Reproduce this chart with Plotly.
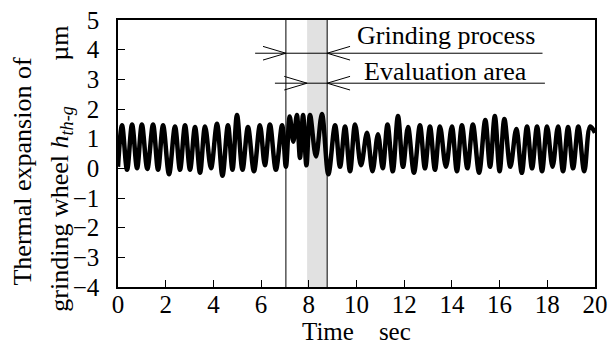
import plotly.graph_objects as go

# ---- data ----
peak_time = [0.17, 0.59, 1.00, 1.47, 1.89, 2.39, 2.81, 3.23, 3.65, 4.15, 4.61, 4.99,
             5.45, 5.95, 6.37, 6.88, 7.20, 7.50, 7.76, 8.05, 8.55, 9.10, 9.52, 9.94,
             10.44, 10.90, 11.30, 11.74, 12.16, 12.66, 13.08, 13.50, 14.00, 14.42,
             14.88, 15.40, 15.80, 16.20, 16.70, 17.15, 17.57, 17.99, 18.45, 18.87,
             19.30, 19.80]
peak_value = [1.45, 1.48, 1.48, 1.48, 1.45, 1.41, 1.45, 1.39, 1.41, 1.50, 1.45, 1.80,
              1.39, 1.45, 1.48, 1.45, 1.75, 1.80, 1.80, 1.80, 1.83, 1.45, 1.41, 1.48,
              1.20, 1.15, 1.48, 1.76, 1.39, 1.45, 1.41, 1.41, 1.41, 1.45,
              1.48, 1.63, 1.76, 1.66, 1.33, 1.41, 1.41, 1.41, 1.41, 1.39,
              1.41, 1.41]
trough_time = [0.00, 0.38, 0.80, 1.23, 1.68, 2.14, 2.60, 3.02, 3.44, 3.90, 4.38, 4.80,
               5.22, 5.70, 6.16, 6.62, 7.04, 7.35, 7.63, 7.90, 8.30, 8.82, 9.31, 9.73,
               10.19, 10.67, 11.10, 11.52, 11.95, 12.41, 12.87, 13.29, 13.75, 14.21,
               14.65, 15.14, 15.60, 16.00, 16.45, 16.93, 17.36, 17.78, 18.22, 18.66,
               19.08, 19.55, 20.00]
trough_value = [0.05, -0.05, 0.00, -0.02, -0.05, -0.20, -0.05, -0.05, -0.15, 0.00, -0.25, -0.05,
                -0.05, -0.10, 0.10, -0.05, 0.05, 0.90, 0.35, 0.10, 0.40, -0.20, 0.05, -0.10,
                0.10, -0.10, 0.00, -0.10, 0.05, -0.15, 0.00, -0.05, 0.05, -0.10,
                0.00, -0.15, 0.05, -0.10, 0.05, -0.15, 0.00, -0.10, 0.05, -0.10,
                0.00, -0.10, 1.20]

x_ticks = [0, 2, 4, 6, 8, 10, 12, 14, 16, 18, 20]
y_ticks = [-4, -3, -2, -1, 0, 1, 2, 3, 4, 5]

grinding_start = 7.04
grinding_end = 8.77
eval_start = 7.93
eval_end = 8.77

# merge peaks and troughs into one time-ordered series
pairs = sorted(zip(peak_time + trough_time, peak_value + trough_value))
time_s = [p[0] for p in pairs]
expansion_um = [p[1] for p in pairs]

FONT = "Liberation Serif"
NB = "\u00a0"

fig = go.Figure()
fig.add_trace(go.Scatter(
    x=time_s, y=expansion_um, mode="lines",
    line=dict(color="black", width=4.5, shape="spline", smoothing=1.0),
    showlegend=False, hoverinfo="skip"))

shapes = []
# evaluation band
shapes.append(dict(type="rect", xref="x", yref="paper", x0=eval_start, x1=eval_end,
                   y0=0, y1=1, fillcolor="#e1e1e1", line=dict(width=0), layer="below"))
# vertical lines of grinding process
for xv in (grinding_start, grinding_end):
    shapes.append(dict(type="line", xref="x", yref="paper", x0=xv, x1=xv, y0=0, y1=1,
                       line=dict(color="black", width=1)))

def arrow_lines(y, left_start, tip_right, tip_left, right_end):
    out = []
    out.append(dict(type="line", xref="x", yref="y", x0=left_start, x1=right_end,
                    y0=y, y1=y, line=dict(color="black", width=1)))
    dx, dy = 0.96, 0.23
    for s in (1, -1):
        out.append(dict(type="line", xref="x", yref="y", x0=tip_right - dx, x1=tip_right,
                        y0=y + s * dy, y1=y, line=dict(color="black", width=1)))
        out.append(dict(type="line", xref="x", yref="y", x0=tip_left + dx, x1=tip_left,
                        y0=y + s * dy, y1=y, line=dict(color="black", width=1)))
    return out

shapes += arrow_lines(3.88, 5.75, grinding_start, grinding_end, 17.8)
shapes += arrow_lines(2.87, 6.58, eval_start, eval_end, 17.9)

annotations = [
    dict(text="Grinding process", x=13.75, y=4.48, xref="x", yref="y",
         showarrow=False, font=dict(family=FONT, size=26, color="black")),
    dict(text="Evaluation area", x=13.72, y=3.27, xref="x", yref="y",
         showarrow=False, font=dict(family=FONT, size=26, color="black")),
    dict(text="Thermal expansion of",
         x=-0.200, y=0.431, xref="paper", yref="paper", textangle=-90,
         xanchor="center", yanchor="middle", showarrow=False,
         font=dict(family=FONT, size=26, color="black")),
    dict(text="grinding wheel <i>h</i><sub><i>th-g</i></sub>" + NB * 7 + "µm",
         x=-0.119, y=0.444, xref="paper", yref="paper", textangle=-90,
         xanchor="center", yanchor="middle", showarrow=False,
         font=dict(family=FONT, size=26, color="black")),
    dict(text="Time" + NB * 4 + "sec", x=0.5, y=-0.165, xref="paper", yref="paper",
         xanchor="center", yanchor="middle", showarrow=False,
         font=dict(family=FONT, size=25, color="black")),
]

fig.update_layout(
    width=610, height=353,
    margin=dict(l=118, r=15, t=20, b=66, autoexpand=False),
    paper_bgcolor="white", plot_bgcolor="white",
    shapes=shapes, annotations=annotations,
    font=dict(family=FONT, size=25, color="black"),
)
fig.update_xaxes(range=[0, 20], tickvals=x_ticks, ticks="inside", ticklen=7,
                 tickcolor="black", tickwidth=1, showgrid=False, zeroline=False,
                 showline=True, linecolor="black", linewidth=1.5, mirror=True,
                 automargin=False, ticklabelstandoff=-6,
                 tickfont=dict(family=FONT, size=25, color="black"))
fig.update_yaxes(range=[-4, 5], tickvals=y_ticks, ticks="inside", ticklen=7,
                 tickcolor="black", tickwidth=1, showgrid=False, zeroline=False,
                 showline=True, linecolor="black", linewidth=1.5, mirror=True,
                 ticklabelstandoff=12, automargin=False,
                 tickfont=dict(family=FONT, size=25, color="black"))

# remove the default page margin so the figure sits at the window's corner
fig.write_html("out.html", config={"displayModeBar": False},
               post_script="document.body.style.margin='0';")
